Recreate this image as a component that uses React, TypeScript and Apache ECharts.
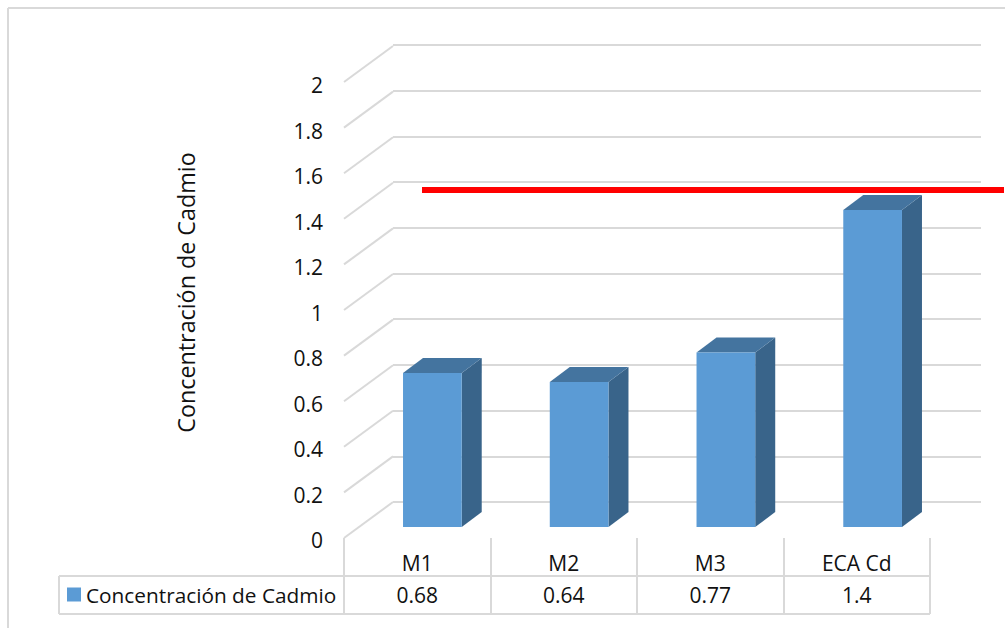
import React, { useEffect, useRef } from "react";
import * as echarts from "echarts";

const categories = ["M1", "M2", "M3", "ECA Cd"];
const values = [0.68, 0.64, 0.77, 1.4];
const seriesName = "Concentración de Cadmio";
const ticks = [0, 0.2, 0.4, 0.6, 0.8, 1, 1.2, 1.4, 1.6, 1.8, 2];

const FONT = "Open Sans";
const GRID_COLOR = "#d9d9d9";
const TEXT_COLOR = "#111111";
const FRONT = "#5b9bd5";
const TOP = "#44749f";
const SIDE = "#39648a";
// Oblique projection of the 3D look: wall depth and bar depth, in pixels.
const WALL_DX = 49;
const WALL_DY = -36;
const BAR_DX = 20;
const BAR_DY = -15;

const hLine = (x1: number, x2: number, y: number) => ({
  type: "line",
  shape: { x1, y1: y, x2, y2: y },
  style: { stroke: GRID_COLOR, lineWidth: 2 },
  silent: true,
});
const vLine = (x: number, y1: number, y2: number) => ({
  type: "line",
  shape: { x1: x, y1, x2: x, y2 },
  style: { stroke: GRID_COLOR, lineWidth: 2 },
  silent: true,
});

export default function App() {
  const ref = useRef<HTMLDivElement>(null);

  useEffect(() => {
    document.body.style.margin = "0";
    const chart = echarts.init(ref.current!, undefined, { renderer: "svg" });

    const hiddenAxis = {
      axisLabel: { show: false },
      axisLine: { show: false },
      axisTick: { show: false },
      splitLine: { show: false },
    };

    chart.setOption({
      animation: false,
      backgroundColor: "#ffffff",
      textStyle: { fontFamily: FONT },
      legend: {
        data: [seriesName],
        left: 62,
        top: 579,
        itemWidth: 14,
        itemHeight: 14,
        icon: "rect",
        selectedMode: false,
        textStyle: { fontFamily: FONT, fontSize: 20.8, color: TEXT_COLOR },
      },
      grid: [
        // Front plane (side-wall start, data table), back wall, bars, value labels.
        { left: 344, top: 82, width: 586, height: 456 },
        { left: 393, top: 45, width: 588, height: 457 },
        { left: 359, top: 74, width: 587, height: 453 },
        { left: 344, top: 85, width: 586, height: 455 },
      ],
      xAxis: [
        {
          type: "category",
          gridIndex: 0,
          data: categories,
          axisLine: { show: false, onZero: false },
          axisTick: { show: true, length: 76, lineStyle: { color: GRID_COLOR, width: 2 } },
          axisLabel: { margin: 14, fontSize: 21, fontFamily: FONT, color: TEXT_COLOR },
        },
        {
          type: "category",
          gridIndex: 0,
          position: "bottom",
          offset: 32,
          data: values.map(String),
          ...hiddenAxis,
          axisLabel: { show: true, margin: 14, fontSize: 21, fontFamily: FONT, color: TEXT_COLOR },
        },
        { type: "category", gridIndex: 1, data: categories, ...hiddenAxis },
        { type: "category", gridIndex: 2, data: categories, ...hiddenAxis },
        { type: "category", gridIndex: 3, data: categories, ...hiddenAxis },
      ],
      yAxis: [
        { type: "value", gridIndex: 0, min: 0, max: 2, interval: 0.2, ...hiddenAxis },
        {
          type: "value",
          gridIndex: 1,
          min: 0,
          max: 2,
          interval: 0.2,
          axisLabel: { show: false },
          axisLine: { show: false },
          axisTick: { show: false },
          splitLine: { show: true, lineStyle: { color: GRID_COLOR, width: 2 } },
        },
        { type: "value", gridIndex: 2, min: 0, max: 2, interval: 0.2, ...hiddenAxis },
        {
          type: "value",
          gridIndex: 3,
          min: 0,
          max: 2,
          interval: 0.2,
          name: seriesName,
          nameLocation: "middle",
          nameGap: 147,
          nameRotate: 90,
          nameTextStyle: {
            fontFamily: FONT,
            fontSize: 23.3,
            color: TEXT_COLOR,
            padding: [0, 0, 0, 40],
          },
          axisLine: { show: false },
          axisTick: { show: false },
          splitLine: { show: false },
          axisLabel: { margin: 21, fontSize: 21, fontFamily: FONT, color: TEXT_COLOR },
        },
      ],
      series: [
        {
          // Slanted side-wall gridlines joining the value axis to the back wall.
          type: "custom",
          name: "wall",
          xAxisIndex: 0,
          yAxisIndex: 0,
          clip: false,
          silent: true,
          z: 1,
          data: ticks.map((t) => [0, t]),
          renderItem: (_p: any, api: any) => {
            const c = api.coord([api.value(0), api.value(1)]);
            const x = c[0] - api.size([1, 0])[0] / 2;
            return {
              type: "line",
              shape: { x1: x, y1: c[1], x2: x + WALL_DX, y2: c[1] + WALL_DY },
              style: { stroke: GRID_COLOR, lineWidth: 2 },
            };
          },
        },
        {
          // Column bars with front, top and side faces.
          type: "custom",
          name: seriesName,
          xAxisIndex: 3,
          yAxisIndex: 2,
          clip: false,
          z: 3,
          itemStyle: { color: FRONT },
          data: values.map((v, i) => [i, v]),
          renderItem: (_p: any, api: any) => {
            const top = api.coord([api.value(0), api.value(1)]);
            const base = api.coord([api.value(0), 0]);
            const w = api.size([1, 0])[0] * 0.4;
            const l = top[0] - w / 2;
            const r = top[0] + w / 2;
            return {
              type: "group",
              children: [
                {
                  type: "polygon",
                  shape: {
                    points: [
                      [r, top[1]],
                      [r + BAR_DX, top[1] + BAR_DY],
                      [r + BAR_DX, base[1] + BAR_DY],
                      [r, base[1]],
                    ],
                  },
                  style: { fill: SIDE },
                },
                {
                  type: "polygon",
                  shape: {
                    points: [
                      [l, top[1]],
                      [l + BAR_DX, top[1] + BAR_DY],
                      [r + BAR_DX, top[1] + BAR_DY],
                      [r, top[1]],
                    ],
                  },
                  style: { fill: TOP },
                },
                {
                  type: "rect",
                  shape: { x: l, y: top[1], width: w, height: base[1] - top[1] },
                  style: { fill: FRONT },
                },
              ],
            };
          },
        },
      ],
      graphic: [
        // Outer frame, top and left edges only.
        hLine(8, 1005, 8),
        vLine(8, 8, 628),
        // Data table rules.
        hLine(59, 930, 576),
        hLine(59, 930, 614),
        vLine(59, 576, 614),
        // Red limit line across the plot.
        {
          type: "rect",
          shape: { x: 422, y: 187, width: 582, height: 6 },
          style: { fill: "#ff0000" },
          silent: true,
          z: 10,
        },
      ],
    });

    return () => chart.dispose();
  }, []);

  return (
    <div
      ref={ref}
      style={{ position: "absolute", left: 0, top: 0, width: 1005, height: 628, overflow: "hidden" }}
    />
  );
}
